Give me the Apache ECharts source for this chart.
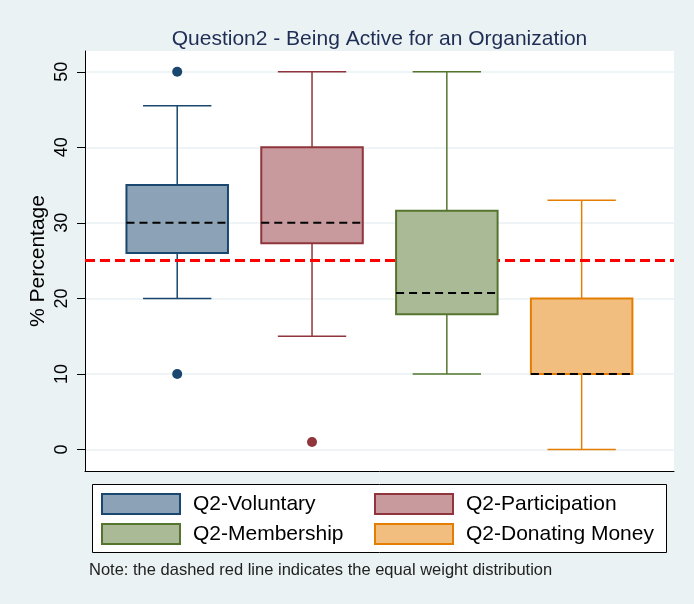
<!DOCTYPE html>
<html>
<head>
<meta charset="utf-8">
<script src="https://cdn.jsdelivr.net/npm/echarts@6/dist/echarts.min.js"></script>
<style>
  html, body { margin: 0; padding: 0; background: #eaf2f3; }
  #boxplot { width: 694px; height: 604px; }
</style>
</head>
<body>
<div id="boxplot"></div>
<script>
'use strict'

// values
var groups = ['Q2-Voluntary', 'Q2-Participation', 'Q2-Membership', 'Q2-Donating Money'];
var lowerWhisker = [20, 15, 10, 0];
var lowerQuartile = [26, 27.3, 17.9, 10];
var medians = [30, 30, 20.7, 10];
var upperQuartile = [35, 40, 31.6, 20];
var upperWhisker = [45.5, 50, 50, 33];
var outliers = [[50, 10], [1], [], []];
var equalWeight = 25;
var yTicks = [0, 10, 20, 30, 40, 50];

var lineColors = ['#1a476f', '#90353b', '#55752f', '#e37e00'];
var fillColors = ['#8ca3b7', '#c89a9d', '#aaba97', '#f1be80'];

var FONT = 'Liberation Sans, Arial, Helvetica, sans-serif';
var BOX_W = 0.753;
var CAP_W = 0.507;

var chart = echarts.init(document.getElementById('boxplot'));

/* whiskers: one line low -> high, plus caps; boxes sit on top */
var whiskerData = groups.map(function (g, i) {
    return [i + 1, lowerWhisker[i], upperWhisker[i], i];
});

function renderWhisker(params, api) {
    var x = api.value(0);
    var lo = api.coord([x, api.value(1)]);
    var hi = api.coord([x, api.value(2)]);
    var half = api.size([CAP_W, 0])[0] / 2;
    var c = lineColors[api.value(3)];
    var st = { stroke: c, lineWidth: 1.5 };
    return {
        type: 'group',
        children: [
            { type: 'line', shape: { x1: lo[0], y1: lo[1], x2: hi[0], y2: hi[1] }, style: st },
            { type: 'line', shape: { x1: lo[0] - half, y1: lo[1], x2: lo[0] + half, y2: lo[1] }, style: st },
            { type: 'line', shape: { x1: hi[0] - half, y1: hi[1], x2: hi[0] + half, y2: hi[1] }, style: st }
        ]
    };
}

function renderBox(params, api) {
    var x = api.value(0);
    var i = api.value(4);
    var bot = api.coord([x, api.value(1)]);
    var mid = api.coord([x, api.value(2)]);
    var top = api.coord([x, api.value(3)]);
    var half = api.size([BOX_W, 0])[0] / 2;
    return {
        type: 'group',
        children: [
            {
                type: 'rect',
                shape: { x: top[0] - half, y: top[1], width: half * 2, height: bot[1] - top[1] },
                style: { fill: fillColors[i], stroke: lineColors[i], lineWidth: 2 }
            },
            {
                type: 'line',
                shape: { x1: mid[0] - half, y1: mid[1], x2: mid[0] + half, y2: mid[1] },
                style: { stroke: '#000', lineWidth: 2, lineDash: [8, 5] }
            }
        ]
    };
}

var series = [{
    name: 'whiskers',
    type: 'custom',
    z: 1,
    silent: true,
    renderItem: renderWhisker,
    data: whiskerData
}, {
    name: 'equal weight',
    type: 'line',
    z: 2,
    data: [],
    markLine: {
        silent: true,
        symbol: 'none',
        label: { show: false },
        lineStyle: { color: '#ff0000', width: 3, type: [10, 5] },
        data: [{ yAxis: equalWeight }]
    }
}];

groups.forEach(function (g, i) {
    series.push({
        name: g,
        type: 'custom',
        z: 10,
        silent: true,
        itemStyle: { color: fillColors[i], borderColor: lineColors[i] },
        renderItem: renderBox,
        data: [[i + 1, lowerQuartile[i], medians[i], upperQuartile[i], i]]
    });
    series.push({
        name: g + ' outliers',
        type: 'scatter',
        z: 10,
        silent: true,
        symbol: 'circle',
        symbolSize: 10,
        itemStyle: { color: lineColors[i], opacity: 1 },
        data: outliers[i].map(function (v) { return [i + 1, v]; })
    });
});

function legendItems(idx) {
    return idx.map(function (i) {
        return {
            name: groups[i],
            icon: 'rect',
            itemStyle: { color: fillColors[i], borderColor: lineColors[i], borderWidth: 2 }
        };
    });
}

var legendText = { fontFamily: FONT, fontSize: 21, color: '#000', lineHeight: 21, padding: [0, 0, 0, 8] };

chart.setOption({
    backgroundColor: '#eaf2f3',
    animation: false,
    title: {
        text: 'Question2 - Being Active for an Organization',
        left: 374.5,
        textAlign: 'center',
        top: 24,
        textStyle: { fontFamily: FONT, fontSize: 21, fontWeight: 'normal', color: '#1f2d55' }
    },
    grid: {
        left: 85, right: 20, top: 51, bottom: 133,
        show: true, backgroundColor: '#ffffff', borderWidth: 0
    },
    xAxis: {
        type: 'value',
        min: 0.316,
        max: 4.685,
        axisLine: { show: true, onZero: false, lineStyle: { color: '#000', width: 1 } },
        axisTick: { show: false },
        axisLabel: { show: false },
        splitLine: { show: false }
    },
    yAxis: {
        type: 'value',
        min: -2.85,
        max: 52.75,
        name: '% Percentage',
        nameLocation: 'middle',
        nameGap: 36,
        nameMoveOverlap: false,
        nameTextStyle: { fontFamily: FONT, fontSize: 21, color: '#000' },
        axisLine: { show: true, lineStyle: { color: '#000', width: 1 } },
        axisTick: { show: true, length: 8, customValues: yTicks, lineStyle: { color: '#000' } },
        axisLabel: {
            customValues: yTicks, rotate: 90, margin: 14,
            fontFamily: FONT, fontSize: 18, color: '#000'
        },
        splitLine: { show: true, lineStyle: { color: '#eaf2f3', width: 1.5 } }
    },
    legend: [{
        orient: 'vertical',
        left: 101,
        top: 493,
        padding: 0,
        itemWidth: 78,
        itemHeight: 20,
        itemGap: 8,
        selectedMode: false,
        textStyle: legendText,
        data: legendItems([0, 2])
    }, {
        orient: 'vertical',
        left: 374,
        top: 493,
        padding: 0,
        itemWidth: 78,
        itemHeight: 20,
        itemGap: 8,
        selectedMode: false,
        textStyle: legendText,
        data: legendItems([1, 3])
    }],
    graphic: [{
        type: 'rect',
        z: 1,
        shape: { x: 92.5, y: 484.5, width: 574, height: 68 },
        style: { fill: '#ffffff', stroke: '#000', lineWidth: 1 }
    }, {
        type: 'text',
        z: 1,
        x: 89,
        y: 570,
        style: {
            text: 'Note: the dashed red line indicates the equal weight distribution',
            fontFamily: FONT, fontSize: 16.5, fill: '#222',
            verticalAlign: 'middle'
        }
    }],
    series: series
});
</script>
</body>
</html>
